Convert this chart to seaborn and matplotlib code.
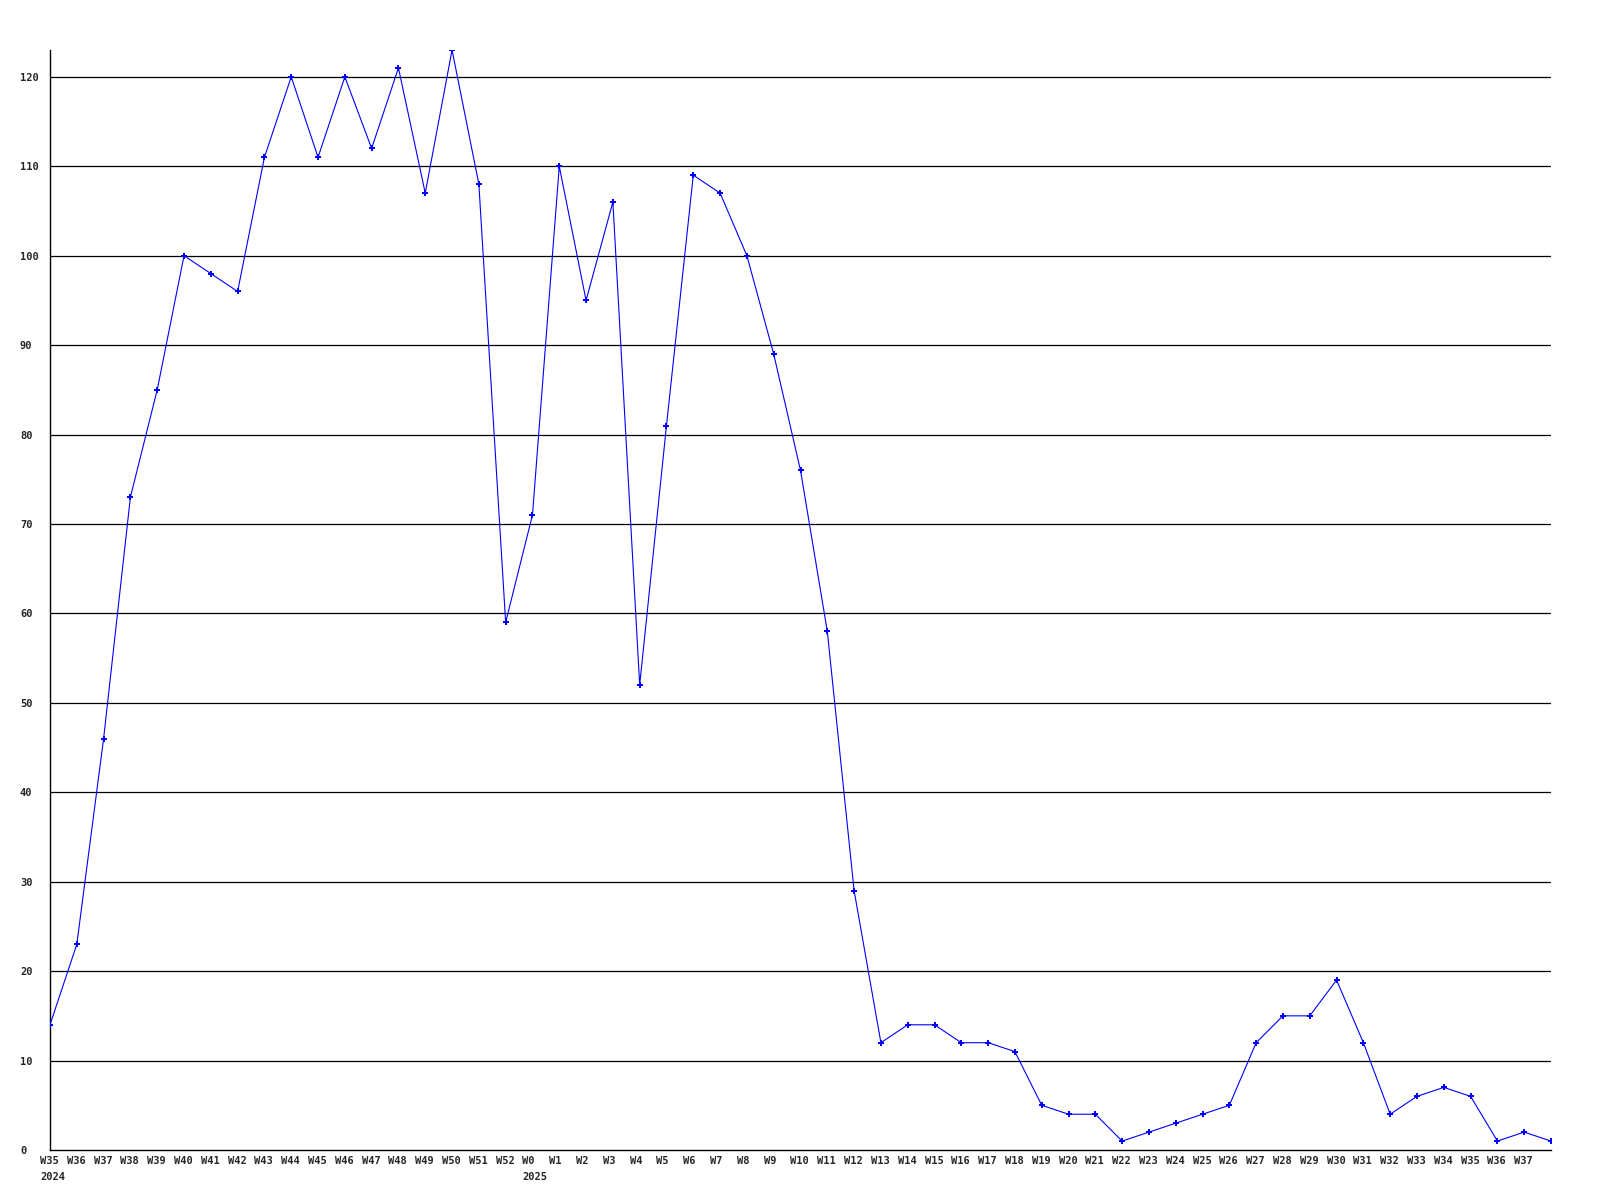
import numpy as np
import pandas as pd
import seaborn as sns
import matplotlib
matplotlib.use("Agg")
from matplotlib import pyplot as plt
from matplotlib.transforms import ScaledTranslation

weeks = ["W35\n2024", "W36", "W37", "W38", "W39", "W40", "W41", "W42", "W43", "W44",
         "W45", "W46", "W47", "W48", "W49", "W50", "W51", "W52", "W0\n2025", "W1",
         "W2", "W3", "W4", "W5", "W6", "W7", "W8", "W9", "W10", "W11",
         "W12", "W13", "W14", "W15", "W16", "W17", "W18", "W19", "W20", "W21",
         "W22", "W23", "W24", "W25", "W26", "W27", "W28", "W29", "W30", "W31",
         "W32", "W33", "W34", "W35", "W36", "W37", ""]
counts = [14, 23, 46, 73, 85, 100, 98, 96, 111, 120,
          111, 120, 112, 121, 107, 123, 108, 59, 71, 110,
          95, 106, 52, 81, 109, 107, 100, 89, 76, 58,
          29, 12, 14, 14, 12, 12, 11, 5, 4, 4,
          1, 2, 3, 4, 5, 12, 15, 15, 19, 12,
          4, 6, 7, 6, 1, 2, 1]
yticks = [0, 10, 20, 30, 40, 50, 60, 70, 80, 90, 100, 110, 120]

df = pd.DataFrame({"idx": np.arange(len(counts)), "count": counts})

sns.set_style("white")
plt.rcParams['font.family'] = ['DejaVu Sans Mono']
fig = plt.figure(figsize=(16, 12), dpi=100)
ax = fig.add_axes([50/1600, 1 - 1150/1200, 1501/1600, 1100/1200])

# horizontal grid every 10
for v in yticks[1:]:
    ax.axhline(v, color="black", lw=0.9, zorder=1)

sns.lineplot(data=df, x="idx", y="count", ax=ax, color="#0000ff", lw=0.8,
             marker="P", markersize=4, markeredgewidth=0, zorder=3)

ax.set_xlim(0, len(counts) - 1)
ax.set_ylim(0, 123)
ax.set_xlabel("")
ax.set_ylabel("")

for s in ["top", "right"]:
    ax.spines[s].set_visible(False)
for s in ["left", "bottom"]:
    ax.spines[s].set_color("black")
    ax.spines[s].set_linewidth(1.0)

ax.set_yticks(yticks)
ax.set_yticklabels([str(v) for v in yticks], fontsize=7.5, fontweight="bold", ha="left")
ax.tick_params(axis="y", length=0, pad=21.6)

ax.set_xticks(df["idx"])
ax.set_xticklabels(weeks, fontsize=7.5, fontweight="bold", ha="left",
                   linespacing=1.8, va="top")
ax.tick_params(axis="x", length=0, pad=4)
off = ScaledTranslation(-10/100, 0, fig.dpi_scale_trans)
for lab in ax.get_xticklabels():
    lab.set_transform(lab.get_transform() + off)

fig.savefig("out.png", dpi=100)
